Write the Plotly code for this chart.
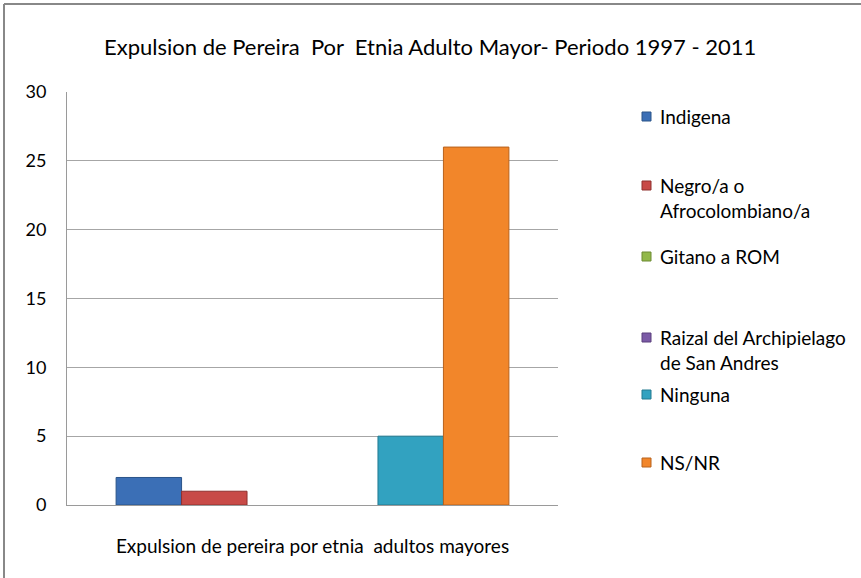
import plotly.graph_objects as go

# Data
category = ["Expulsion de pereira por etnia  adultos mayores"]
series_names = [
    "Indigena",
    "Negro/a o<br>Afrocolombiano/a",
    "Gitano a ROM",
    "Raizal del Archipielago<br>de San Andres",
    "Ninguna",
    "NS/NR",
]
series_values = [2, 1, 0, 0, 5, 26]
series_colors = ["#3b6fb6", "#c84a47", "#92b84a", "#7b5aa6", "#32a2c0", "#f2862a"]
series_edges = ["#2b5489", "#8f302e", "#6c8a33", "#5a3f7d", "#237a91", "#b8621c"]
y_ticks = [0, 5, 10, 15, 20, 25, 30]

title_text = "Expulsion de Pereira  Por  Etnia Adulto Mayor- Periodo 1997 - 2011"
FONT = "Lato"

W, H = 861, 578
L, R, T, B = 67, 303, 92, 73
PW, PH = W - L - R, H - T - B


def px_x(p):
    return (p - L) / PW


def px_y(p):
    return (H - B - p) / PH


fig = go.Figure()
for name, val, col, edge in zip(series_names, series_values, series_colors, series_edges):
    fig.add_trace(go.Bar(
        x=category, y=[val], name=name.replace("<br>", " "),
        marker=dict(color=col, line=dict(color=edge, width=1 if val > 0 else 0)),
        showlegend=False, hoverinfo="skip",
    ))

# Legend drawn as annotation text with small square swatches
legend_rows = [116, 185, 256, 337, 394, 462]
annotations = [
    dict(text=title_text, x=px_x(430), y=px_y(47), xref="paper", yref="paper",
         xanchor="center", yanchor="middle", showarrow=False,
         font=dict(family=FONT, size=22, color="#000000")),
]
shapes = [
    # outer chart frame (top and left edges)
    dict(type="line", xref="paper", yref="paper", x0=px_x(4), x1=px_x(870),
         y0=px_y(4), y1=px_y(4), line=dict(color="#888888", width=2)),
    dict(type="line", xref="paper", yref="paper", x0=px_x(4), x1=px_x(4),
         y0=px_y(4), y1=px_y(590), line=dict(color="#888888", width=2)),
]
for name, col, edge, row in zip(series_names, series_colors, series_edges, legend_rows):
    annotations.append(dict(
        text=name, x=px_x(658), y=px_y(row - 13), xref="paper", yref="paper",
        xanchor="left", yanchor="top", align="left", showarrow=False,
        font=dict(family=FONT, size=19, color="#000000"),
    ))
    shapes.append(dict(
        type="rect", xref="paper", yref="paper",
        x0=px_x(642), x1=px_x(651), y0=px_y(row - 4), y1=px_y(row + 5),
        fillcolor=col, line=dict(color=edge, width=1),
    ))

fig.update_layout(
    width=W, height=H,
    margin=dict(l=L, r=R, t=T, b=B),
    paper_bgcolor="#ffffff", plot_bgcolor="#ffffff",
    barmode="group", bargap=0.2, bargroupgap=0,
    font=dict(family=FONT, size=16, color="#000000"),
    annotations=annotations, shapes=shapes,
    xaxis=dict(
        showgrid=False, showline=True, linecolor="#9a9a9a", linewidth=1,
        ticks="", ticklabelstandoff=24, tickfont=dict(family=FONT, size=19),
        fixedrange=True,
    ),
    yaxis=dict(
        range=[0, 30], tickvals=y_ticks, showgrid=True, gridcolor="#a6a6a6",
        gridwidth=1, showline=True, linecolor="#9a9a9a", linewidth=1,
        zeroline=False, ticks="", ticklabelstandoff=16,
        tickfont=dict(family=FONT, size=18), fixedrange=True,
    ),
)

fig.write_html("out.html")
